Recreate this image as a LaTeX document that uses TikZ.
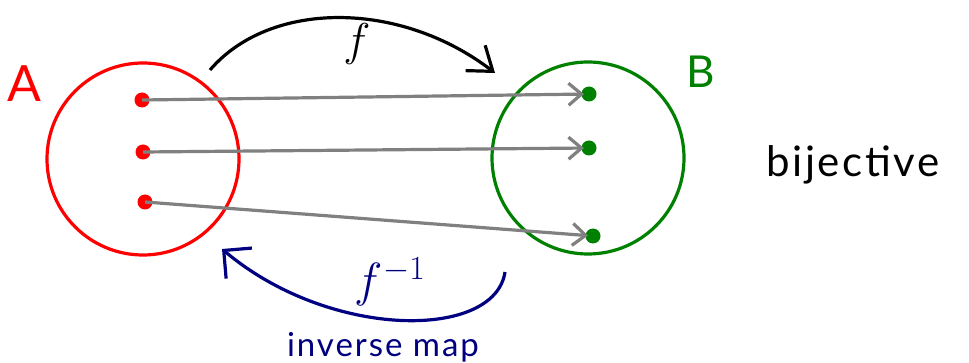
\documentclass[tikz,border=0pt]{standalone}
\usepackage{fix-cm}
\usepackage{fontspec}
\setmainfont[LetterSpace=6]{Lato}
\usetikzlibrary{arrows.meta,positioning,calc}
\usepackage{xcolor}
\definecolor{setred}{RGB}{255,0,0}
\definecolor{setgreen}{RGB}{0,128,0}
\definecolor{mapnavy}{RGB}{0,0,128}
\begin{document}
\begin{tikzpicture}[x=1pt, y=-1pt,
    setc/.style={circle, draw, line width=3.2pt, minimum size=192pt, inner sep=0pt},
    dot/.style={circle, fill, inner sep=0pt, minimum size=15pt},
    maparr/.style={-{Straight Barb[length=13pt, width=22pt]}, line width=3.2pt, gray, shorten >=5pt},
    lbl/.style={inner sep=0pt}
]
    \useasboundingbox (0,0) rectangle (969,363);

    % the two sets
    \node[setc, setred]   (setA) at (143,159) {};
    \node[setc, setgreen] (setB) at (588,158) {};
    \node[lbl, setred, font=\fontsize{50}{50}\selectfont]   (lblA) at (24,84) {A};
    \node[lbl, setgreen, font=\fontsize{44}{44}\selectfont] (lblB) at (701,72) {B};

    % elements
    \node[dot, setred] (a1) at (142,100) {};
    \node[dot, setred] (a2) at (143,152) {};
    \node[dot, setred] (a3) at (145,202) {};
    \node[dot, setgreen] (b1) at (589,94) {};
    \node[dot, setgreen] (b2) at (589,148) {};
    \node[dot, setgreen] (b3) at (593,236) {};

    \draw[maparr] (a1.center) -- (b1.center);
    \draw[maparr] (a2.center) -- (b2.center);
    \draw[maparr] (a3.center) -- (b3.center);

    % f and its inverse
    \coordinate (fs) at (210,70);
    \coordinate (fe) at (495,73);
    \draw[line width=3.2pt, -{Straight Barb[length=22pt, width=32pt]}]
        (fs) .. controls (270,0) and (400,0) .. (fe);
    \node[lbl, font=\fontsize{46}{46}\selectfont] (lblf) at (357,44) {$f$};

    \coordinate (gs) at (505,272);
    \coordinate (ge) at (222,249);
    \draw[line width=3.2pt, mapnavy, -{Straight Barb[length=20pt, width=40pt]}]
        (gs) .. controls (495,340) and (330,340) .. (ge);
    \node[lbl, mapnavy, font=\fontsize{48}{48}\selectfont] (lblfinv) at (390,282) {$f^{-1}$};
    \node[lbl, mapnavy, font=\fontsize{33}{33}\selectfont] (lblinv) at (383,347) {inverse map};

    \node[lbl, font=\fontsize{42}{42}\selectfont] (lblbij) at (853,165) {bijective};
\end{tikzpicture}
\end{document}
